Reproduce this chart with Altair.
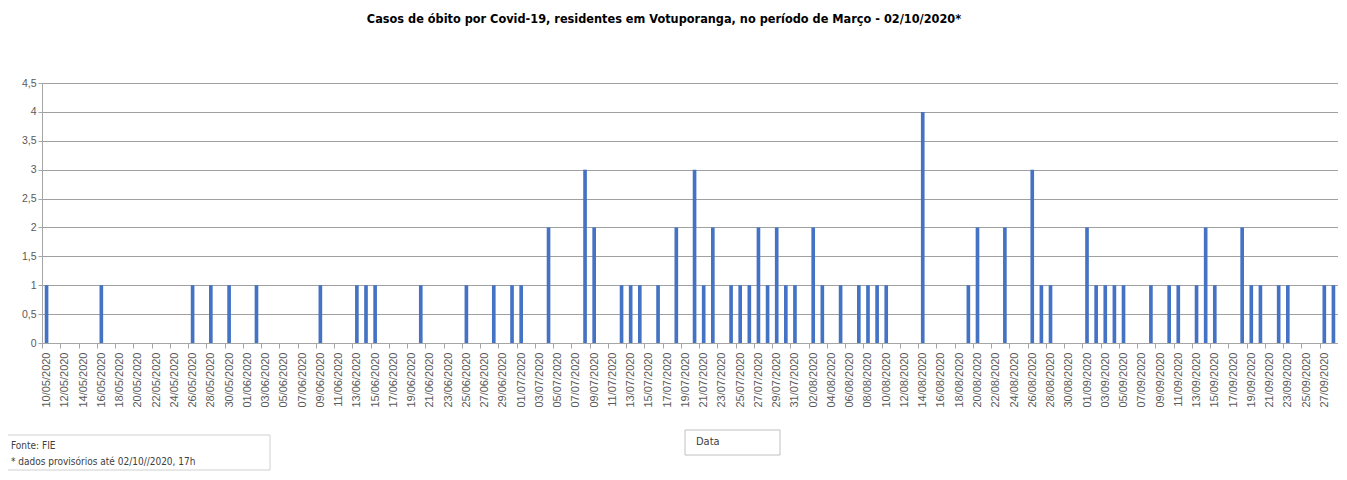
import altair as alt
import pandas as pd

# Categories: every day from 10/05/2020 to 28/09/2020
days = pd.date_range("2020-05-10", "2020-09-28", freq="D")
categories = [d.strftime("%d/%m/%Y") for d in days]

# Days with deaths and their counts
death_dates = [
    "10/05/2020", "16/05/2020", "26/05/2020", "28/05/2020", "30/05/2020",
    "02/06/2020", "09/06/2020", "13/06/2020", "14/06/2020", "15/06/2020",
    "20/06/2020", "25/06/2020", "28/06/2020", "30/06/2020", "01/07/2020",
    "04/07/2020", "08/07/2020", "09/07/2020", "12/07/2020", "13/07/2020",
    "14/07/2020", "16/07/2020", "18/07/2020", "20/07/2020", "21/07/2020",
    "22/07/2020", "24/07/2020", "25/07/2020", "26/07/2020", "27/07/2020",
    "28/07/2020", "29/07/2020", "30/07/2020", "31/07/2020", "02/08/2020",
    "03/08/2020", "05/08/2020", "07/08/2020", "08/08/2020", "09/08/2020",
    "10/08/2020", "14/08/2020", "19/08/2020", "20/08/2020", "23/08/2020",
    "26/08/2020", "27/08/2020", "28/08/2020", "01/09/2020", "02/09/2020",
    "03/09/2020", "04/09/2020", "05/09/2020", "08/09/2020", "10/09/2020",
    "11/09/2020", "13/09/2020", "14/09/2020", "15/09/2020", "18/09/2020",
    "19/09/2020", "20/09/2020", "22/09/2020", "23/09/2020", "27/09/2020",
    "28/09/2020",
]
death_counts = [
    1, 1, 1, 1, 1,
    1, 1, 1, 1, 1,
    1, 1, 1, 1, 1,
    2, 3, 2, 1, 1,
    1, 1, 2, 3, 1,
    2, 1, 1, 1, 2,
    1, 2, 1, 1, 2,
    1, 1, 1, 1, 1,
    1, 4, 1, 2, 2,
    3, 1, 1, 2, 1,
    1, 1, 1, 1, 1,
    1, 1, 2, 1, 2,
    1, 1, 1, 1, 1,
    1,
]

y_ticks = [0, 0.5, 1, 1.5, 2, 2.5, 3, 3.5, 4, 4.5]
label_dates = categories[::2]

counts = dict(zip(death_dates, death_counts))
df = pd.DataFrame({"Data": categories, "Obitos": [counts.get(c, 0) for c in categories]})

W, H = 1296, 260
step = W / len(categories)
NARROW = "'Liberation Sans Narrow', 'DejaVu Sans Condensed', 'Liberation Sans', sans-serif"

bars = alt.Chart(df).mark_bar(color="#4472C4").encode(
    x=alt.X(
        "Data:O",
        sort=None,
        title=None,
        scale=alt.Scale(paddingInner=0.6, paddingOuter=0.3),
        axis=alt.Axis(
            values=label_dates,
            labelAngle=270,
            labelFont="Liberation Sans",
            labelFontSize=11,
            labelColor="#595959",
            labelPadding=4,
            tickOffset=-step / 2,
            labelOffset=step / 2,
            tickSize=5,
            tickColor="#a6a6a6",
            domainColor="#a6a6a6",
            grid=False,
        ),
    ),
    y=alt.Y(
        "Obitos:Q",
        title=None,
        scale=alt.Scale(domain=[0, 4.5], nice=False),
        axis=alt.Axis(
            values=y_ticks,
            labelExpr="replace(toString(datum.value), '.', ',')",
            labelFont="Liberation Sans",
            labelFontSize=10.5,
            labelColor="#595959",
            tickSize=4,
            tickColor="#a6a6a6",
            domainColor="#a6a6a6",
            gridColor="#a0a0a0",
            gridWidth=1.2,
        ),
    ),
)

box_df = pd.DataFrame({"k": [0]})

footer_box = alt.Chart(box_df).mark_rect(
    fill="white", stroke="#d0d0d0", strokeWidth=1, clip=False
).encode(
    x=alt.value(-39), x2=alt.value(228), y=alt.value(352), y2=alt.value(387)
)
footer_t1 = alt.Chart(box_df).mark_text(
    text="Fonte: FIE", align="left", baseline="middle",
    font=NARROW, fontSize=10, color="#404040"
).encode(x=alt.value(-31), y=alt.value(363))
footer_t2 = alt.Chart(box_df).mark_text(
    text="* dados provisórios até  02/10//2020, 17h", align="left", baseline="middle",
    font=NARROW, fontSize=10, color="#404040"
).encode(x=alt.value(-31), y=alt.value(379))

data_box = alt.Chart(box_df).mark_rect(
    fill="white", stroke="#c0c0c0", strokeWidth=1
).encode(
    x=alt.value(643), x2=alt.value(738), y=alt.value(347), y2=alt.value(372)
)
data_t = alt.Chart(box_df).mark_text(
    text="Data", align="left", baseline="middle",
    font=NARROW, fontSize=11, color="#404040"
).encode(x=alt.value(654), y=alt.value(359))

chart = alt.layer(bars, footer_box, footer_t1, footer_t2, data_box, data_t).properties(
    width=W,
    height=H,
    autosize=alt.AutoSizeParams(type="none"),
    padding={"left": 34, "top": 75, "right": 0, "bottom": 128},
    title=alt.TitleParams(
        text="Casos de óbito por Covid-19, residentes em Votuporanga, no período de Março - 02/10/2020*",
        font=NARROW,
        fontSize=12.6,
        fontWeight="bold",
        color="#000000",
        anchor="middle",
        dx=-26,
        offset=52,
    ),
).configure_view(stroke=None)

chart.save("out.html", embed_options={"renderer": "svg", "actions": False})
